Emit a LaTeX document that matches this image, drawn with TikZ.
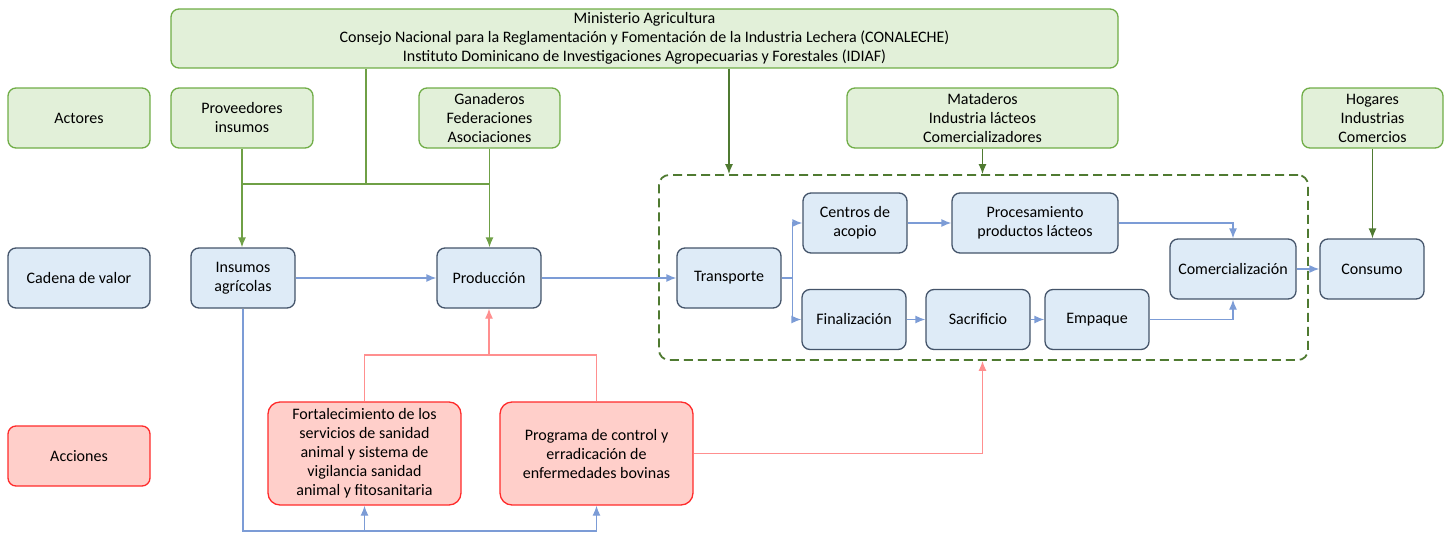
\documentclass[tikz,border=0pt]{standalone}
\usepackage{fontspec}
\setmainfont{Carlito}
\usetikzlibrary{positioning, arrows.meta}
\definecolor{actorfill}{HTML}{E2F0D9}
\definecolor{actordraw}{HTML}{70AD47}
\definecolor{chainfill}{HTML}{DEEBF7}
\definecolor{chaindraw}{HTML}{44546A}
\definecolor{actionfill}{HTML}{FFCFCA}
\definecolor{actiondraw}{HTML}{FF2B2B}
\definecolor{flowblue}{HTML}{4472C4}
\definecolor{flowred}{HTML}{FF8F8F}
\definecolor{flowgreen}{HTML}{6FA046}
\definecolor{darkgreen}{HTML}{4F7A31}
\tikzset{
	actor/.style={draw=actordraw, fill=actorfill, rectangle, rounded corners=8pt, line width=1.3pt, align=center, inner sep=0pt, minimum height=60pt},
	chain/.style={draw=chaindraw, fill=chainfill, rectangle, rounded corners=8pt, line width=1.3pt, align=center, inner sep=0pt, minimum height=60pt},
	action/.style={draw=actiondraw, fill=actionfill, rectangle, rounded corners=12pt, line width=1.3pt, align=center, inner sep=0pt, minimum height=60pt},
	% dashed frame round the market part of the chain
	market/.style={draw=darkgreen, rectangle, rounded corners=10pt, line width=1.8pt, dash pattern=on 9pt off 5pt},
}

\begin{document}
\begin{tikzpicture}[x=1pt, y=-1pt, font=\fontsize{16}{19}\selectfont]
		\useasboundingbox (0,0) rectangle (1448,535);
		
		\node (consejo) [actor, minimum width=947pt, minimum height=59pt] at (644.5,38.5) {Ministerio Agricultura\\Consejo Nacional para la Reglamentación y Fomentación de la Industria Lechera (CONALECHE)\\Instituto Dominicano de Investigaciones Agropecuarias y Forestales (IDIAF)};
		
		\node (actores) [actor, minimum width=142pt] at (79,118) {Actores};
		\node (prov) [actor, minimum width=142pt] at (242,118) {Proveedores\\insumos};
		\node (gan) [actor, minimum width=141pt] at (489.5,118) {Ganaderos\\Federaciones\\Asociaciones};
		\node (matad) [actor, minimum width=271pt] at (982.5,118) {Mataderos\\Industria lácteos\\Comercializadores};
		\node (hog) [actor, minimum width=141pt] at (1372.5,118) {Hogares\\Industrias\\Comercios};
		
		\node (market) [market, minimum width=649pt, minimum height=185pt] at (983.5,267.5) {};
		
		\node (cadena) [chain, minimum width=142pt] at (79,278) {Cadena de valor};
		\node (ins) [chain, minimum width=104pt] at (243,278) {Insumos\\agrícolas};
		\node (prod) [chain, minimum width=104pt] at (489,278) {Producción};
		\node (trans) [chain, minimum width=104pt] at (729,278) {Transporte};
		\node (centros) [chain, minimum width=104pt] at (855,223) {Centros de\\acopio};
		\node (proc) [chain, minimum width=166pt] at (1035,223) {Procesamiento\\productos lácteos};
		\node (final) [chain, minimum width=104pt] at (854,319.5) {Finalización};
		\node (sac) [chain, minimum width=104pt] at (978,319.5) {Sacrificio};
		\node (emp) [chain, minimum width=104pt] at (1097,319.5) {Empaque};
		\node (comer) [chain, minimum width=126pt] at (1233,269) {Comercialización};
		\node (consumo) [chain, minimum width=104pt] at (1372,269) {Consumo};
		
		\node (acciones) [action, minimum width=142pt, rounded corners=8pt] at (79,456) {Acciones};
		\node (fort) [action, minimum width=193pt, minimum height=103pt] at (364.5,453.5) {Fortalecimiento de los\\servicios de sanidad\\animal y sistema de\\vigilancia sanidad\\animal y fitosanitaria};
		\node (prog) [action, minimum width=193pt, minimum height=103pt] at (596.5,453.5) {Programa de control y\\erradicación de\\enfermedades bovinas};
		
		\coordinate (actjoin) at (366,184);
		\coordinate (redjoin) at (489,355);
		\coordinate (bottom) at (243,531);
		
		% actors
		\begin{scope}[line width=1.3pt, flowgreen, ->, >={Latex[length=10pt, width=8pt]}]
			\draw[-] (consejo.south -| actjoin) -- (actjoin);
			\draw[-] (prov.south |- actjoin) -- (gan.south |- actjoin);
			\draw (prov.south) -- (prov.south |- ins.north);
			\draw (gan.south) -- (gan.south |- prod.north);
			\draw[darkgreen] (consejo.south -| trans.north) -- (market.north -| trans.north);
			\draw[darkgreen] (matad.south) -- (market.north -| matad.south);
			\draw[darkgreen] (hog.south) -- (hog.south |- consumo.north);
		\end{scope}
		
		% value chain
		\begin{scope}[line width=1.3pt, flowblue!70, ->, >={Latex[length=10pt, width=8pt]}]
			\draw (ins) -- (prod);
			\draw (prod) -- (trans);
			\draw (trans.east) -- ++(11,0) |- (centros.west);
			\draw (trans.east) -- ++(11,0) |- (final.west);
			\draw (centros) -- (proc);
			\draw (proc.east) -| (comer.north);
			\draw (final) -- (sac);
			\draw (sac) -- (emp);
			\draw (emp.east) -| (comer.south);
			\draw (comer) -- (consumo);
			\draw (ins.south) -- (bottom) -| (prog.south);
			\draw (bottom) -| (fort.south);
		\end{scope}
		
		% actions
		\begin{scope}[line width=1.3pt, flowred, ->, >={Latex[length=10pt, width=8pt]}]
			\draw[-] (fort.north) |- (redjoin) -| (prog.north);
			\draw (redjoin) -- (prod.south);
			\draw (prog.east) -| (market.south -| matad.south);
		\end{scope}
	\end{tikzpicture}
\end{document}
